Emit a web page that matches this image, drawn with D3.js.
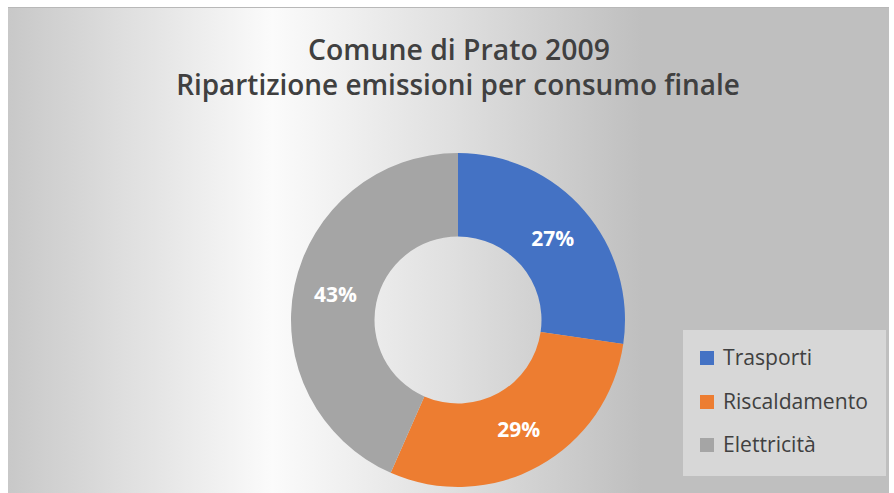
<!DOCTYPE html>
<html>
<head>
<meta charset="utf-8">
<script src="https://cdn.jsdelivr.net/npm/d3@7"></script>
<style>
html,body{margin:0;padding:0;background:#ffffff;}
svg{display:block;}
</style>
</head>
<body>
<svg id="chart" width="894" height="493"></svg>
<script>
const titleLines = ["Comune di Prato 2009", "Ripartizione emissioni per consumo finale"];
const categories = ["Trasporti", "Riscaldamento", "Elettricità"];
const values = [27.3, 29.3, 43.4];
const colors = ["#4472c4", "#ed7d31", "#a5a5a5"];

const svg = d3.select("#chart");
const W = 894, H = 493;
const font = "'Open Sans', 'Noto Sans', sans-serif";

// background gradient
const defs = svg.append("defs");
const grad = defs.append("linearGradient").attr("id", "bg").attr("x1", "0").attr("x2", "1").attr("y1", "0").attr("y2", "0");
[[0, "#c8c8c8"], [0.3, "#fbfbfb"], [0.5, "#e0e0e0"], [0.72, "#bfbfbf"], [1, "#bfbfbf"]].forEach(([o, c]) =>
  grad.append("stop").attr("offset", o).attr("stop-color", c));

const frame = {x: 8, y: 7, w: 881, h: 486};
svg.append("rect").attr("x", frame.x).attr("y", frame.y).attr("width", frame.w).attr("height", frame.h)
  .attr("fill", "url(#bg)");
svg.append("line").attr("x1", frame.x).attr("x2", frame.x + frame.w).attr("y1", frame.y + 0.5).attr("y2", frame.y + 0.5)
  .attr("stroke", "#b8b8b8").attr("stroke-width", 1);

// fit helper
function fit(sel, width) {
  const len = sel.node().getComputedTextLength();
  const fs = parseFloat(sel.attr("font-size"));
  const nfs = fs * width / len;
  sel.attr("font-size", nfs);
  return nfs;
}

// title
const tl = [
  {text: titleLines[0], x0: 308, x1: 610, y: 60},
  {text: titleLines[1], x0: 176, x1: 740, y: 95}
];
tl.forEach(t => {
  const s = svg.append("text").attr("x", (t.x0 + t.x1) / 2).attr("y", t.y)
    .attr("text-anchor", "middle").attr("font-family", font).attr("font-weight", 600)
    .attr("font-size", 22).attr("fill", "#404040").text(t.text);
  fit(s, t.x1 - t.x0);
});

// donut
const cx = 458, cy = 320, rOuter = 167, rInner = 83.5;
const pie = d3.pie().sort(null).value(d => d)(values);
const arc = d3.arc().innerRadius(rInner).outerRadius(rOuter);
const total = d3.sum(values);
const g = svg.append("g").attr("transform", `translate(${cx},${cy})`);
g.selectAll("path").data(pie).join("path")
  .attr("d", arc).attr("fill", (d, i) => colors[i]);
g.selectAll("text").data(pie).join("text")
  .attr("transform", d => `translate(${arc.centroid(d)})`)
  .attr("text-anchor", "middle").attr("dy", "0.36em")
  .attr("font-family", font).attr("font-weight", 700).attr("font-size", 21)
  .attr("fill", "#ffffff")
  .text(d => Math.round(d.data / total * 100) + "%");

// legend
const lg = svg.append("g");
lg.append("rect").attr("x", 683).attr("y", 330).attr("width", 203).attr("height", 146)
  .attr("fill", "#d9d9d9").attr("fill-opacity", 0.9);
const rowY = [358, 402, 445];
const texts = categories.map((c, i) => {
  lg.append("rect").attr("x", 700).attr("y", rowY[i] - 7).attr("width", 14).attr("height", 14).attr("fill", colors[i]);
  return lg.append("text").attr("x", 723).attr("y", rowY[i]).attr("dy", "0.35em")
    .attr("font-family", font).attr("font-size", 18).attr("fill", "#404040").text(c);
});
const lfs = fit(texts[1], 145);
texts.forEach(t => t.attr("font-size", lfs));
</script>
</body>
</html>
